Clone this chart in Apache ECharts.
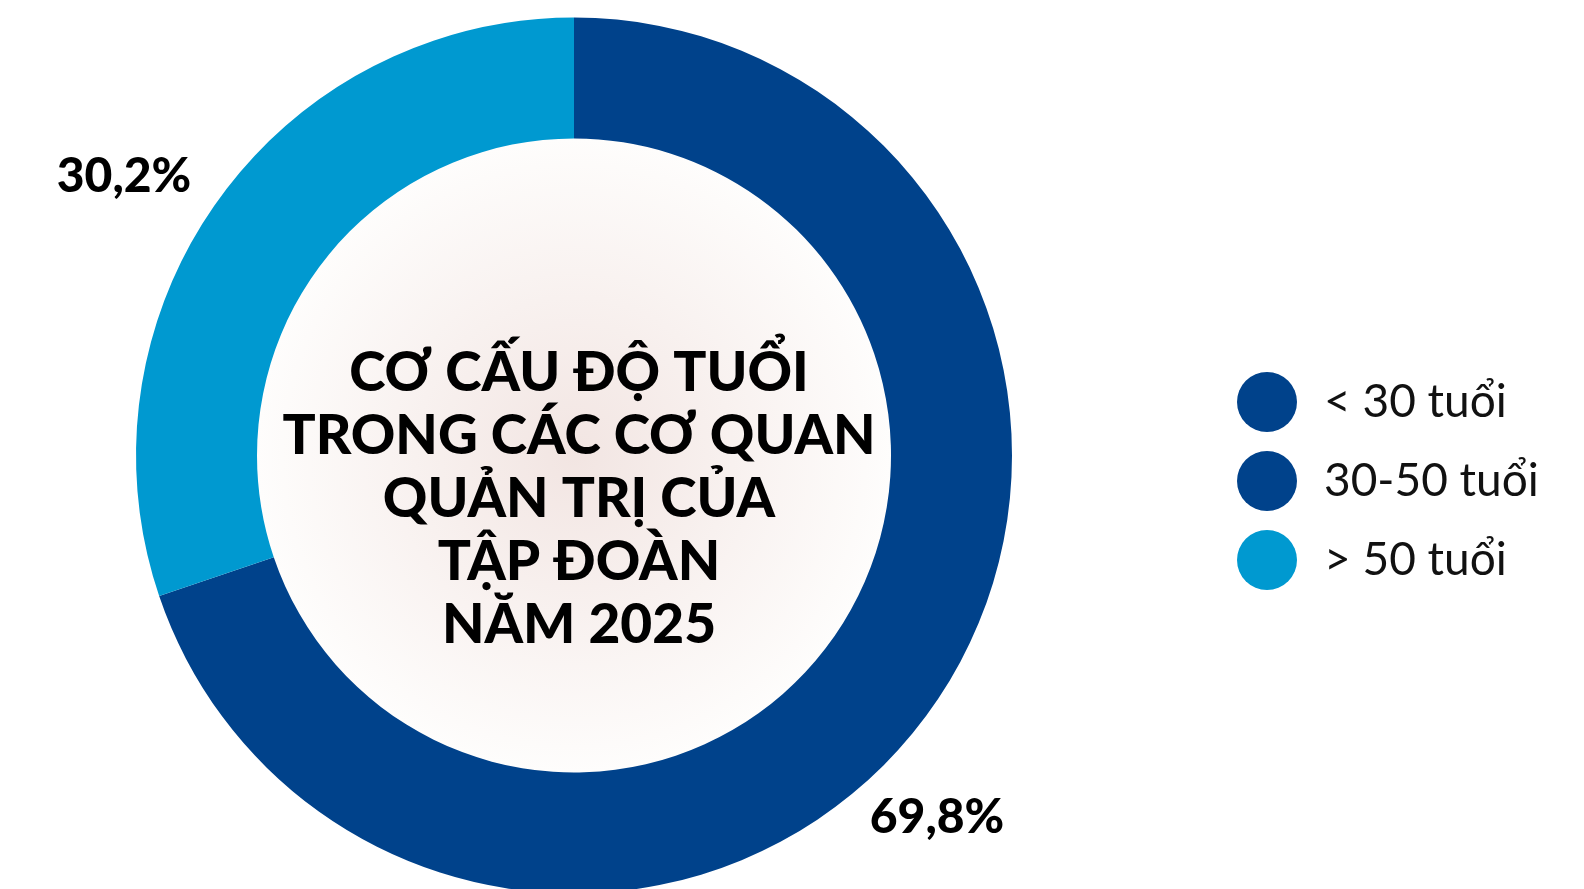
<!DOCTYPE html>
<html>
<head>
<meta charset="utf-8">
<script src="https://cdn.jsdelivr.net/npm/echarts@6/dist/echarts.min.js"></script>
<style>
  html, body { margin: 0; padding: 0; background: #fff; }
  #chart { width: 1584px; height: 889px; }
</style>
</head>
<body>
<div id="chart"></div>
<script>
// nhóm tuổi và tỷ lệ (%)
const groups = ['< 30 tuổi', '30-50 tuổi', '> 50 tuổi']
const shares = [0, 69.8, 30.2]
const colors = ['#00428b', '#00428b', '#0099d0']
const labelText = ['', '69,8%', '30,2%']
const titleLines = ['CƠ CẤU ĐỘ TUỔI', 'TRONG CÁC CƠ QUAN', 'QUẢN TRỊ CỦA', 'TẬP ĐOÀN', 'NĂM 2025']

const chart = echarts.init(document.getElementById('chart'))

// vị trí nhãn phần trăm
const labelPos = [null, [937, 818], [124, 177]]

const option = {
  animation: false,
  title: {
    text: titleLines.join('\n'),
    left: 574,
    top: 337,
    textAlign: 'center',
    textStyle: {
      fontFamily: 'Lato',
      fontWeight: 900,
      fontSize: 55,
      lineHeight: 63,
      color: '#000'
    }
  },
  legend: {
    data: groups,
    orient: 'vertical',
    left: 1232,
    top: 367,
    icon: 'circle',
    itemWidth: 60,
    itemHeight: 60,
    itemGap: 19,
    selectedMode: false,
    textStyle: {
      fontFamily: 'Lato',
      fontSize: 46,
      color: '#111',
      padding: [0, 0, 0, 22]
    }
  },
  series: [
    {
      name: 'nen',
      type: 'pie',
      silent: true,
      radius: [0, 317],
      center: [574, 455.5],
      label: { show: false },
      labelLine: { show: false },
      data: [{
        value: 1,
        name: 'nen',
        itemStyle: {
          color: {
            type: 'radial', x: 0.5, y: 0.5, r: 0.5,
            colorStops: [
              { offset: 0, color: '#f2e5e2' },
              { offset: 1, color: '#fefdfc' }
            ]
          }
        }
      }]
    },
    {
      name: 'Cơ cấu độ tuổi',
      type: 'pie',
      radius: [317, 438],
      center: [574, 455.5],
      startAngle: 90,
      clockwise: true,
      itemStyle: { borderWidth: 0 },
      label: {
        show: true,
        position: 'outside',
        formatter: p => labelText[p.dataIndex],
        fontFamily: 'Lato',
        fontWeight: 900,
        fontSize: 48,
        color: '#000'
      },
      labelLine: { show: false },
      labelLayout: params => {
        const pos = labelPos[params.dataIndex]
        if (!pos) return {}
        return { x: pos[0], y: pos[1], align: 'center', verticalAlign: 'middle' }
      },
      data: groups.map((g, i) => ({
        name: g,
        value: shares[i],
        itemStyle: { color: colors[i] }
      }))
    }
  ]
}

chart.setOption(option)

window.addEventListener('resize', () => {
  chart.resize()
})
</script>
</body>
</html>
